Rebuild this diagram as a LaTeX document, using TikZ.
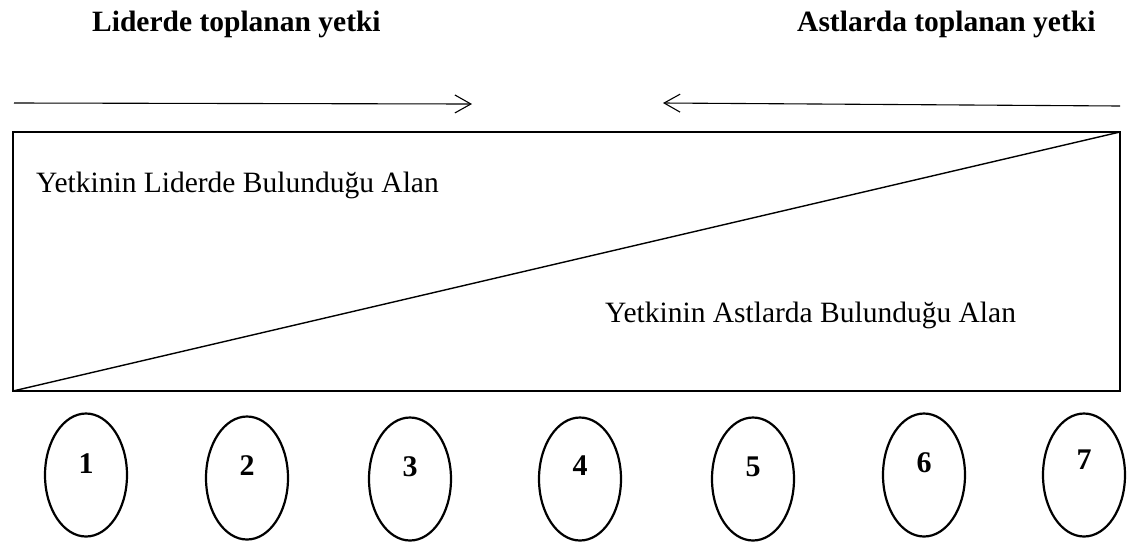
\documentclass[tikz,border=0pt]{standalone}
\usepackage{fontspec}
\setmainfont{Liberation Serif}
\usetikzlibrary{shapes.geometric,arrows.meta}

\begin{document}
\begin{tikzpicture}[
	x=1pt, y=-1pt,
	heading/.style={anchor=base west, inner sep=0pt, font=\fontsize{29.5}{35}\selectfont\bfseries},
	area text/.style={anchor=base west, inner sep=0pt, font=\fontsize{29.5}{35}\selectfont},
	flow/.style={line width=1.1pt, -{Straight Barb[length=16pt, width=18pt, line width=1.1pt]}},
	level/.style={draw, ellipse, line width=2.2pt, inner sep=0pt, minimum width=82pt, minimum height=123pt},
	level number/.style={inner sep=0pt, font=\fontsize{30}{36}\selectfont\bfseries}]

	\useasboundingbox (0,0) rectangle (1127,542);

	% headings
	\node[heading] (lider) at (92,31) {Liderde toplanan yetki};
	\node[heading] (ast) at (797,31) {Astlarda toplanan yetki};

	% direction arrows
	\coordinate (lstart) at (14,103);
	\coordinate (lend) at (472,104);
	\coordinate (rstart) at (1120,106);
	\coordinate (rend) at (663,103);
	\draw[flow] (lstart) -- (lend);
	\draw[flow] (rstart) -- (rend);

	% the box split by the diagonal
	\node[draw, line width=2.6pt, inner sep=0pt, outer sep=0pt, minimum width=1107pt, minimum height=259pt] (box) at (566.5,261.5) {};
	\draw[line width=1.4pt] (box.south west) -- (box.north east);
	\node[area text] (upper) at (36,192) {Yetkinin Liderde Bulunduğu Alan};
	\node[area text] (lower) at (605,322) {Yetkinin Astlarda Bulunduğu Alan};

	% levels
	\foreach \x/\y/\dy/\n in {86/475/11/1, 247/478/12/2, 410/479/12/3, 580/479/13/4, 753/479/12/5, 924/475/12/6, 1084/475/15/7} {
		\node[level] (e\n) at (\x,\y) {};
		\node[level number] (n\n) at ([yshift=\dy pt]e\n.center) {\n};
	}
\end{tikzpicture}
\end{document}
